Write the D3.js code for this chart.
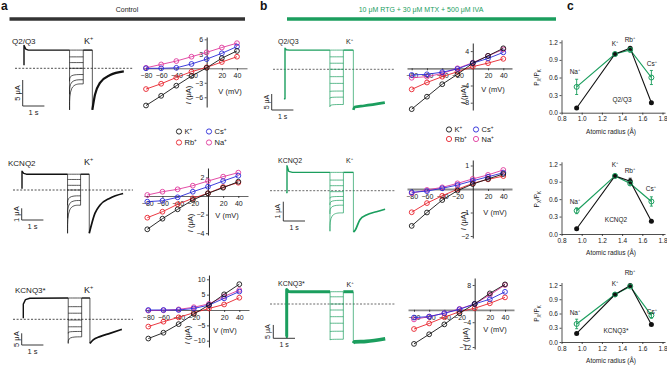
<!DOCTYPE html>
<html><head><meta charset="utf-8">
<script src="https://cdn.jsdelivr.net/npm/d3@7"></script>
<style>body{margin:0;background:#fff} svg{display:block}</style>
</head><body><svg id="c" width="667" height="369"></svg>
<script>
// ================= DATA =================
const volts = [-80, -60, -40, -20, 0, 20, 40];
const xTickVals = [-80, -60, -40, -20, 20, 40];
const ionOrder = ["Na", "Rb", "Cs", "K"];

// IV: control (panel a)
const q23CtrlK  = [-7.7, -5.7, -3.6, -1.6, 0.1, 2.1, 3.6];
const q23CtrlRb = [-4.3, -3.2, -1.9, -0.7, 0.2, 1.3, 2.4];
const q23CtrlCs = [0, 0, 0.1, 0.9, 1.9, 3.1, 4.5];
const q23CtrlNa = [0.1, 0.8, 1.5, 2.4, 3.3, 4.3, 5.2];
const q2CtrlK  = [-3.58, -2.44, -1.43, -0.43, 0.29, 0.89, 1.54];
const q2CtrlRb = [-2.33, -1.69, -0.89, -0.25, 0.29, 0.97, 1.43];
const q2CtrlCs = [-0.61, -0.51, -0.14, 0.46, 1.0, 1.61, 2.18];
const q2CtrlNa = [0.11, 0.46, 0.72, 1.11, 1.61, 2.08, 2.51];
const q3CtrlK  = [-9.3, -7.4, -4.6, -1.3, 1.6, 5.1, 8.4];
const q3CtrlRb = [-5.4, -3.8, -2.4, -0.9, 0.5, 1.8, 4.0];
const q3CtrlCs = [0, 0, 0, 0.5, 1.6, 3.8, 6.0];
const q3CtrlNa = [-0.2, -0.1, 0.2, 0.9, 2.0, 4.4, 6.5];
// IV: drug (panel b)
const q23DrugK  = [-9.5, -6.6, -3.7, -1.4, 1.2, 2.9, 4.65];
const q23DrugRb = [-4.9, -3.3, -1.95, -0.8, 0.4, 1.2, 2.2];
const q23DrugCs = [-1.55, -1.4, -0.9, -0.15, 1.2, 2.3, 3.7];
const q23DrugNa = [-2.2, -1.95, -1.2, 0, 1.3, 2.9, 4.4];
const q2DrugK  = [-1.57, -1.0, -0.47, -0.07, 0.21, 0.43, 0.64];
const q2DrugRb = [-0.99, -0.6, -0.29, -0.01, 0.24, 0.41, 0.55];
const q2DrugCs = [-0.14, -0.09, 0.03, 0.17, 0.35, 0.52, 0.69];
const q2DrugNa = [-0.18, -0.04, 0.07, 0.24, 0.43, 0.6, 0.81];
const q3DrugK  = [-11, -7.9, -4.7, -1.1, 1.9, 5.3, 8.2];
const q3DrugRb = [-6.2, -4.4, -2.4, -0.6, 0.5, 2.1, 4.0];
const q3DrugCs = [-2.5, -2.2, -1.1, 0.15, 1.9, 3.4, 5.8];
const q3DrugNa = [-3.1, -2.2, -1.1, 0.3, 1.9, 4.8, 8.0];

// Permeability ratios (panel c)  order: Na, K, Rb, Cs
const cIons = ["Na", "K", "Rb", "Cs"];
const radii = [0.95, 1.33, 1.48, 1.69];
const q23PCtrl = [0.08, 1.0, 1.1, 0.17];
const q23PDrug = [0.44, 1.0, 1.07, 0.6];
const q23PDrugErr = [0.13, 0, 0.03, 0.12];
const q2PCtrl = [0.09, 1.0, 0.91, 0.22];
const q2PCtrlErr = [0, 0, 0.05, 0];
const q2PDrug = [0.4, 1.0, 0.87, 0.56];
const q2PDrugErr = [0.05, 0, 0.03, 0.08];
const q3PCtrl = [0.18, 1.0, 1.19, 0.37];
const q3PDrug = [0.38, 1.0, 1.17, 0.56];
const q3PDrugErr = [0.1, 0, 0.02, 0.06];
const cXTicks = [0.8, 1.0, 1.2, 1.4, 1.6, 1.8];
const cYTicks = [0, 0.3, 0.6, 0.9, 1.2];

// Current traces: times = [onset, step, return, tail, end] (s); currents in µA
const q23CtrlTimes = [0, 2.1, 2.73, 3.15, 4.6];
const q23CtrlOnset = [[0, 0.6], [0, 4.4], [0.08, 3.7], [0.2, 3.5]];
const q23CtrlPlateau = [3.5];
const q23CtrlInst = [3.5, 2.2, 1.1, 0, -2.5, -5.0, -8.0];
const q23CtrlEnd  = [3.5, 2.2, 1.1, 0, -1.2, -2.2, -3.0];
const q23CtrlTail = [[0, -8], [0.12, -5.1], [0.35, -2.8], [0.82, -1.3], [1.45, -0.6]];

const q2CtrlTimes = [0, 2.1, 2.7, 3.1, 4.65];
const q2CtrlOnset = [[0, 0.1], [0, 1.6], [0.08, 1.42], [0.2, 1.35]];
const q2CtrlPlateau = [1.35];
const q2CtrlInst = [1.35, 0.9, 0.4, 0, -1.3, -2.4, -3.7];
const q2CtrlEnd  = [1.35, 0.9, 0.4, 0, -0.5, -0.9, -1.3];
const q2CtrlTail = [[0, -3.7], [0.26, -2.0], [0.49, -1.3], [0.95, -0.7], [1.56, -0.3]];

const q3CtrlTimes = [0, 2.07, 2.69, 3.07, 4.54];
const q3CtrlOnset = [[0, 0.4], [0, 6.5], [0.1, 8.4], [0.3, 9.0]];
const q3CtrlPlateau = [9.1];
const q3CtrlInst = [9.1, 5.4, 2.6, -0.3, -3.2, -6.0, -10.3];
const q3CtrlEnd  = [9.1, 5.4, 2.6, -0.3, -3.2, -5.2, -7.5];
const q3CtrlTail = [[0, -10.3], [0.15, -8.8], [0.46, -7.4], [0.92, -6.0], [1.47, -4.3]];

const q23DrugTimes = [0, 2.07, 2.69, 3.15, 4.6];
const q23DrugOnset = [[-0.05, -9.2], [0, -9.2], [0, 6.6], [0.06, 6.1], [0.2, 6.0]];
const q23DrugPlateau = [6.0];
const q23DrugInst = [6.0, 3.9, 1.9, 0, -2.3, -4.4, -7.0, -9.1, -11.7];
const q23DrugEnd  = [6.0, 3.9, 1.9, 0, -2.3, -4.4, -6.8, -8.7, -11.0];
const q23DrugTail = [[0, -12.7], [0.06, -11.8], [0.5, -11.4], [1.45, -10.4]];

const q2DrugTimes = [0, 1.98, 2.6, 3.06, 4.52];
const q2DrugOnset = [[-0.04, -0.1], [0, -0.1], [0, 1.3], [0.08, 1.0], [0.25, 0.95]];
const q2DrugPlateau = [0.95];
const q2DrugInst = [0.95, 0.55, 0.26, -0.05, -0.4, -0.74, -1.2, -2.1];
const q2DrugEnd  = [0.95, 0.55, 0.26, -0.05, -0.3, -0.5, -0.75, -1.15];
const q2DrugTail = [[0, -2.14], [0.08, -2.05], [0.3, -1.5], [0.6, -1.26], [1.06, -1.09], [1.46, -0.96]];

const q3DrugTimes = [0, 2.0, 2.61, 3.07, 4.54];
const q3DrugOnset = [[-0.04, -12.2], [0, -12.2], [0, 5.4], [0.08, 4.7], [0.2, 4.6]];
const q3DrugPlateau = [4.6];
const q3DrugInst = [4.6, 2.7, 0, -2.25, -4.75, -7.2, -10.4, -13.5];
const q3DrugEnd  = [4.6, 2.7, 0, -2.25, -4.75, -7.2, -10.2, -13.2];
const q3DrugTail = [[0, -14.7], [0.06, -14.2], [0.6, -14.0], [1.47, -13.0]];

// ================= STYLE / LAYOUT =================
const FONT = '"Liberation Sans", Arial, Helvetica, sans-serif';
const GREEN = "#1b9e5e";
const TXT = "#222";
const ionColor = {K: "#151515", Rb: "#e8232c", Cs: "#2a2ad8", Na: "#e0399c"};
const PX_PER_S = 21.7;

const svg = d3.select("#c").attr("font-family", FONT);
svg.append("rect").attr("width", 667).attr("height", 369).attr("fill", "#fff");

function supText(g, x, y, base, sup, size, anchor, color) {
  const t = g.append("text").attr("x", x).attr("y", y).attr("font-size", size)
    .attr("text-anchor", anchor || "start").attr("fill", color || TXT);
  t.append("tspan").text(base);
  t.append("tspan").attr("dy", -size * 0.4).attr("font-size", size * 0.62).text(sup);
  return t;
}

// ---------- headers ----------
svg.append("text").attr("x", 1).attr("y", 10).attr("font-size", 12).attr("font-weight", "bold").attr("fill", "#111").text("a");
svg.append("text").attr("x", 260).attr("y", 10).attr("font-size", 12).attr("font-weight", "bold").attr("fill", "#111").text("b");
svg.append("text").attr("x", 567).attr("y", 10).attr("font-size", 12).attr("font-weight", "bold").attr("fill", "#111").text("c");
svg.append("line").attr("x1", 9.5).attr("x2", 245).attr("y1", 19).attr("y2", 19).attr("stroke", "#333").attr("stroke-width", 3.4);
svg.append("text").attr("x", 127).attr("y", 11.5).attr("font-size", 7).attr("text-anchor", "middle").attr("fill", TXT).text("Control");
svg.append("line").attr("x1", 287).attr("x2", 556).attr("y1", 19).attr("y2", 19).attr("stroke", GREEN).attr("stroke-width", 3.4);
svg.append("text").attr("x", 421).attr("y", 11.5).attr("font-size", 7).attr("text-anchor", "middle").attr("fill", GREEN)
  .text("10 μM RTG + 30 μM MTX + 500 μM IVA");

// ---------- current traces ----------
function drawTrace(L, T) {
  const g = svg.append("g");
  const x = d3.scaleLinear().domain([0, 1]).range([L.x0, L.x0 + PX_PER_S]);
  const y = d3.scaleLinear().domain([0, 1]).range([L.zeroY, L.zeroY - L.pxUA]);
  const mk = c => { const l = d3.line().x(d => x(d[0])).y(d => y(d[1])); return c ? l.curve(c) : l; };
  const [t0, ts, tr, tt, te] = T.times;
  const plat = T.plateau[0];
  g.append("path").attr("d", mk()([[x.invert(L.dash[0]), 0], [x.invert(L.dash[1]), 0]]))
    .attr("stroke", L.dashColor).attr("stroke-width", 0.8).attr("stroke-dasharray", "2,1.6").attr("fill", "none");
  const path = (d, w, c) => g.append("path").attr("d", mk(c)(d)).attr("stroke", L.color)
    .attr("stroke-width", w).attr("fill", "none").attr("stroke-linejoin", "round");
  path(T.onset.concat([[ts, plat]]), L.wPlat);
  const minInst = d3.min(T.inst), minEnd = d3.min(T.end);
  path([[ts, plat], [ts, minInst]], L.wStep);
  T.inst.forEach((v, i) => path([[ts, v], [ts, T.end[i]], [tr, T.end[i]]], L.wStep, d3.curveBasis));
  path([[tr, minEnd], [tr, plat]], L.wStep);
  path([[tr, plat], [tt, plat]], L.wPlat);
  path([[tt, plat], [tt, T.tail[0][1]]], L.wStep);
  path(T.tail.map(p => [tt + p[0], p[1]]), L.wTail, d3.curveMonotoneX);
  // scale bar
  const sb = L.sb, len = y(0) - y(sb.ua);
  g.append("path").attr("d", `M${sb.x},${sb.y - len}V${sb.y}H${sb.x + PX_PER_S}`)
    .attr("stroke", "#222").attr("stroke-width", 0.9).attr("fill", "none");
  g.append("text").attr("transform", `translate(${sb.x - 3},${sb.y - len / 2}) rotate(-90)`)
    .attr("text-anchor", "middle").attr("font-size", L.fs).attr("fill", TXT).text(sb.ua + " μA");
  g.append("text").attr("x", sb.x + PX_PER_S / 2).attr("y", sb.y + 8.5).attr("text-anchor", "middle")
    .attr("font-size", L.fs).attr("fill", TXT).text("1 s");
  g.append("text").attr("x", L.name[1]).attr("y", L.name[2]).attr("font-size", L.nameFs).attr("fill", TXT).text(L.name[0]);
  supText(g, L.kLab[0], L.kLab[1], "K", "+", L.kFs);
}

const traceA = {color: "#111", dashColor: "#222", wPlat: 1.4, wStep: 0.7, fs: 7.5, nameFs: 8, kFs: 9};
const traceB = {color: GREEN, dashColor: "#444", wPlat: 1.4, wStep: 0.7, fs: 7, nameFs: 7, kFs: 7};

drawTrace({...traceA, x0: 24, zeroY: 68.3, pxUA: 5.2, dash: [15, 133], wTail: 2.2,
  sb: {x: 22.7, y: 106, ua: 5}, name: ["Q2/Q3", 12, 44], kLab: [84, 44]},
  {times: q23CtrlTimes, onset: q23CtrlOnset, plateau: q23CtrlPlateau, inst: q23CtrlInst, end: q23CtrlEnd, tail: q23CtrlTail});
drawTrace({...traceA, x0: 22, zeroY: 190, pxUA: 11.7, dash: [13, 133], wTail: 1.7,
  sb: {x: 21.7, y: 220, ua: 1}, name: ["KCNQ2", 8, 166], kLab: [84, 165]},
  {times: q2CtrlTimes, onset: q2CtrlOnset, plateau: q2CtrlPlateau, inst: q2CtrlInst, end: q2CtrlEnd, tail: q2CtrlTail});
drawTrace({...traceA, x0: 23.3, zeroY: 319.3, pxUA: 2.34, dash: [13, 133], wTail: 1.7,
  sb: {x: 21.7, y: 345, ua: 5}, name: ["KCNQ3*", 15, 293], kLab: [84, 293]},
  {times: q3CtrlTimes, onset: q3CtrlOnset, plateau: q3CtrlPlateau, inst: q3CtrlInst, end: q3CtrlEnd, tail: q3CtrlTail});
drawTrace({...traceB, x0: 285, zeroY: 69.3, pxUA: 3.2, dash: [273, 395], wTail: 2.6,
  sb: {x: 271.7, y: 110, ua: 5}, name: ["Q2/Q3", 278, 44], kLab: [346, 44]},
  {times: q23DrugTimes, onset: q23DrugOnset, plateau: q23DrugPlateau, inst: q23DrugInst, end: q23DrugEnd, tail: q23DrugTail});
drawTrace({...traceB, x0: 287, zeroY: 190.7, pxUA: 19.3, dash: [270, 395], wTail: 1.7,
  sb: {x: 283.3, y: 221, ua: 1}, name: ["KCNQ2", 278, 162.5], kLab: [346, 162.5]},
  {times: q2DrugTimes, onset: q2DrugOnset, plateau: q2DrugPlateau, inst: q2DrugInst, end: q2DrugEnd, tail: q2DrugTail});
drawTrace({...traceB, x0: 286.7, zeroY: 304, pxUA: 2.67, dash: [270, 395], wTail: 3.6, wPlat: 3,
  sb: {x: 273.3, y: 338.3, ua: 5}, name: ["KCNQ3*", 278, 286], kLab: [346.5, 287]},
  {times: q3DrugTimes, onset: q3DrugOnset, plateau: q3DrugPlateau, inst: q3DrugInst, end: q3DrugEnd, tail: q3DrugTail});

// ---------- IV plots ----------
const minusFmt = d => d < 0 ? "\u2212" + Math.abs(d) : String(d);
function ivPlot(L, data) {
  const g = svg.append("g");
  const x = d3.scaleLinear().domain([-80, 40]).range([L.xa, L.xb]);
  const y = d3.scaleLinear().domain([0, 1]).range([L.y0, L.y0 - L.ppu]);
  const xAx = d3.scaleLinear().domain([x.invert(L.axL), x.invert(L.axR)]).range([L.axL, L.axR]);
  const yAx = d3.scaleLinear().domain([y.invert(L.yTop), y.invert(L.yBot)]).range([L.yTop, L.yBot]);
  const gx = g.append("g").attr("transform", `translate(0,${L.y0})`)
    .call(d3.axisBottom(xAx).tickValues(xTickVals).tickSize(2).tickSizeOuter(0).tickFormat(minusFmt));
  gx.select(".domain").attr("stroke", L.axisColor).attr("stroke-width", L.axisW);
  const gy = g.append("g").attr("transform", `translate(${x(0)},0)`)
    .call(d3.axisLeft(yAx).tickValues(L.ticks).tickSize(2).tickSizeOuter(0).tickFormat(minusFmt));
  gy.select(".domain").attr("stroke", "#111").attr("stroke-width", 0.9);
  [gx, gy].forEach(a => {
    a.attr("font-family", FONT).attr("font-size", 7);
    a.selectAll(".tick line").attr("stroke", "#222").attr("stroke-width", 0.8);
    a.selectAll(".tick text").attr("fill", TXT);
  });
  gy.selectAll(".tick text").attr("x", -3.5);
  const line = d3.line().x((d, i) => x(volts[i])).y(d => y(d));
  ionOrder.forEach(ion => {
    const vals = data[ion];
    g.append("path").attr("d", line(vals)).attr("fill", "none").attr("stroke", ionColor[ion]).attr("stroke-width", 0.9);
    g.selectAll(null).data(vals).enter().append("circle")
      .attr("cx", (d, i) => x(volts[i])).attr("cy", d => y(d)).attr("r", 2.4)
      .attr("fill", "none").attr("stroke", ionColor[ion]).attr("stroke-width", 0.9);
  });
  g.append("text").attr("x", L.vl[0]).attr("y", L.vl[1] + 2.5).attr("text-anchor", "middle")
    .attr("font-size", 7.5).attr("fill", TXT).text("V (mV)");
  const it = g.append("text").attr("transform", `translate(${L.il[0] + 2.5},${L.il[1]}) rotate(-90)`)
    .attr("text-anchor", "middle").attr("font-size", 7.5).attr("fill", TXT);
  it.append("tspan").attr("font-style", "italic").text("I");
  it.append("tspan").text(" (μA)");
}
const ivA = {axisColor: "#666", axisW: 1};
const ivB = {axisColor: "#8a8a8a", axisW: 1.8};
ivPlot({...ivA, xa: 146, xb: 237, axL: 143, axR: 247, y0: 68.3, ppu: 4.83, yTop: 37, yBot: 107,
  ticks: [6, 3, -3, -6], vl: [230, 91], il: [188, 95]},
  {K: q23CtrlK, Rb: q23CtrlRb, Cs: q23CtrlCs, Na: q23CtrlNa});
ivPlot({...ivA, xa: 147.3, xb: 238.3, axL: 144, axR: 248, y0: 196, ppu: 9.3, yTop: 168, yBot: 235,
  ticks: [2, -2, -4], vl: [227, 215], il: [190, 223]},
  {K: q2CtrlK, Rb: q2CtrlRb, Cs: q2CtrlCs, Na: q2CtrlNa});
ivPlot({...ivA, xa: 148.3, xb: 239.3, axL: 145, axR: 249, y0: 310, ppu: 3.07, yTop: 275, yBot: 347,
  ticks: [10, 5, -5, -10], vl: [225, 330], il: [187, 335]},
  {K: q3CtrlK, Rb: q3CtrlRb, Cs: q3CtrlCs, Na: q3CtrlNa});
ivPlot({...ivB, xa: 411.7, xb: 503.3, axL: 407, axR: 512, y0: 68.3, ppu: 4.3, yTop: 43, yBot: 110,
  ticks: [4, -4, -8], vl: [493, 89], il: [463, 95]},
  {K: q23DrugK, Rb: q23DrugRb, Cs: q23DrugCs, Na: q23DrugNa});
ivPlot({...ivB, xa: 411.7, xb: 503.3, axL: 407, axR: 512, y0: 189, ppu: 23.5, yTop: 160, yBot: 238,
  ticks: [1, -1, -2], vl: [495, 212], il: [463, 221]},
  {K: q2DrugK, Rb: q2DrugRb, Cs: q2DrugCs, Na: q2DrugNa});
ivPlot({...ivB, xa: 414, xb: 505, axL: 408, axR: 514, y0: 309.8, ppu: 3.1, yTop: 278, yBot: 349,
  ticks: [8, -4, -12], vl: [495, 329], il: [465, 337]},
  {K: q3DrugK, Rb: q3DrugRb, Cs: q3DrugCs, Na: q3DrugNa});

// ---------- IV legends ----------
function ivLegend(cx1, cx2, y1, y2) {
  const items = [["K", cx1, y1], ["Cs", cx2, y1], ["Rb", cx1, y2], ["Na", cx2, y2]];
  items.forEach(([ion, cx, cy]) => {
    svg.append("circle").attr("cx", cx).attr("cy", cy).attr("r", 2.6).attr("fill", "none")
      .attr("stroke", ionColor[ion]).attr("stroke-width", 0.9);
    supText(svg, cx + 5.5, cy + 2.6, ion, "+", 7.5);
  });
}
ivLegend(179, 209, 131.5, 142.5);
ivLegend(449, 476, 129.5, 139);

// ---------- Panel c ----------
function cPlot(L, ctrl, ctrlErr, drug, drugErr) {
  const g = svg.append("g");
  const x = d3.scaleLinear().domain([0.8, 1.8]).range([561.5, 662.5]);
  const y = d3.scaleLinear().domain([0, 1.2]).range([L.y0, L.y12]);
  const xAx = d3.scaleLinear().domain([0.8, x.invert(665)]).range([561.5, 665]);
  const yAx = d3.scaleLinear().domain([0, y.invert(L.y12 - 2.5)]).range([L.y0, L.y12 - 2.5]);
  const gx = g.append("g").attr("transform", `translate(0,${L.y0})`)
    .call(d3.axisBottom(xAx).tickValues(cXTicks).tickSize(2).tickSizeOuter(0).tickFormat(d3.format(".1f")));
  const gy = g.append("g").attr("transform", `translate(561.5,0)`)
    .call(d3.axisLeft(yAx).tickValues(cYTicks).tickSize(2).tickSizeOuter(0).tickFormat(d3.format(".1f")));
  [gx, gy].forEach(a => {
    a.attr("font-family", FONT).attr("font-size", 6.5);
    a.select(".domain").attr("stroke", "#222").attr("stroke-width", 0.8);
    a.selectAll(".tick line").attr("stroke", "#222").attr("stroke-width", 0.8);
    a.selectAll(".tick text").attr("fill", TXT);
  });
  gx.selectAll(".tick text").attr("y", 4);
  gy.selectAll(".tick text").attr("x", -3.5);
  const line = d3.line().x((d, i) => x(radii[i])).y(d => y(d));
  g.append("path").attr("d", line(drug)).attr("fill", "none").attr("stroke", GREEN).attr("stroke-width", 1.2);
  g.append("path").attr("d", line(ctrl)).attr("fill", "none").attr("stroke", "#111").attr("stroke-width", 1.1);
  const errs = (vals, err, col) => vals.forEach((v, i) => {
    if (!err[i]) return;
    const cx = x(radii[i]);
    g.append("path").attr("d", `M${cx},${y(v - err[i])}V${y(v + err[i])}M${cx - 1.5},${y(v - err[i])}h3M${cx - 1.5},${y(v + err[i])}h3`)
      .attr("stroke", col).attr("stroke-width", 0.9).attr("fill", "none");
  });
  errs(ctrl, ctrlErr, "#111");
  errs(drug, drugErr, GREEN);
  g.selectAll(null).data(ctrl).enter().append("circle").attr("cx", (d, i) => x(radii[i])).attr("cy", d => y(d))
    .attr("r", 2.5).attr("fill", "#111");
  g.selectAll(null).data(drug).enter().append("circle").attr("cx", (d, i) => x(radii[i])).attr("cy", d => y(d))
    .attr("r", 2.5).attr("fill", "none").attr("stroke", GREEN).attr("stroke-width", 1);
  cIons.forEach((ion, i) => supText(g, L.lab[i][0], L.lab[i][1], ion, "+", 6.5, "middle"));
  g.append("text").attr("x", L.name[1]).attr("y", L.name[2]).attr("text-anchor", "middle").attr("font-size", 6.5)
    .attr("fill", TXT).text(L.name[0]);
  g.append("text").attr("x", 611).attr("y", L.y0 + 21).attr("text-anchor", "middle").attr("font-size", 6.5)
    .attr("fill", TXT).text("Atomic radius (Å)");
  const pt = g.append("text").attr("transform", `translate(539,${(L.y0 + L.y12) / 2}) rotate(-90)`)
    .attr("text-anchor", "middle").attr("font-size", 6.5).attr("fill", TXT);
  pt.append("tspan").text("P");
  pt.append("tspan").attr("dy", 1.5).attr("font-size", 4.5).text("X");
  pt.append("tspan").attr("dy", -1.5).text("/P");
  pt.append("tspan").attr("dy", 1.5).attr("font-size", 4.5).text("K");
}
cPlot({y0: 112.7, y12: 42.3, lab: [[575, 74], [615, 45.5], [630, 41.5], [652, 65.5]], name: ["Q2/Q3", 622, 102]},
  q23PCtrl, [0, 0, 0, 0], q23PDrug, q23PDrugErr);
cPlot({y0: 234, y12: 164.3, lab: [[575, 204], [615, 167], [630, 173], [651, 190.5]], name: ["KCNQ2", 616, 222]},
  q2PCtrl, q2PCtrlErr, q2PDrug, q2PDrugErr);
cPlot({y0: 342, y12: 285, lab: [[575, 315], [615, 286], [630, 275], [652, 314]], name: ["KCNQ3*", 616, 333]},
  q3PCtrl, [0, 0, 0, 0], q3PDrug, q3PDrugErr);
</script></body></html>
